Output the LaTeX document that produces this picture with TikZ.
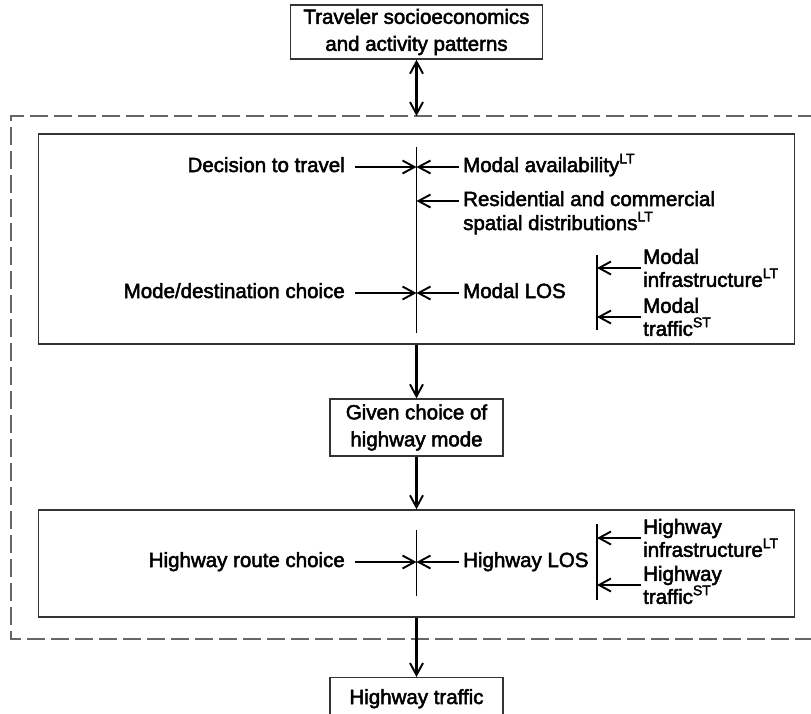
\documentclass[tikz,border=0pt]{standalone}
\usepackage{fontspec}
\setmainfont[FakeBold=2.4]{Liberation Sans}
\usetikzlibrary{arrows.meta}
\newcommand\sscr[1]{\raisebox{0.42em}{\fontsize{14}{14}\selectfont #1}}
\begin{document}
\begin{tikzpicture}[x=1pt,y=-1pt,
  every node/.style={font=\fontsize{20.5}{27}\selectfont},
  box/.style={draw=black!80, line width=1.4pt, align=center, inner sep=0pt},
  lab/.style={inner sep=0pt, text height=14pt, text depth=4pt},
  labm/.style={inner sep=0pt, align=left, font=\fontsize{20.5}{23}\selectfont},
  arr/.style={line width=2.3pt, -{Straight Barb[length=12pt,width=13pt,line width=1.9pt]}},
  darr/.style={line width=2.3pt, {Straight Barb[length=12pt,width=13pt,line width=1.9pt]}-{Straight Barb[length=12pt,width=13pt,line width=1.9pt]}},
  vline/.style={line width=1.1pt},
  dashbox/.style={draw=black!60, line width=1.4pt, dash pattern=on 18pt off 6pt}]
\useasboundingbox (0,0) rectangle (811,713);
\fill[white] (0,0) rectangle (811,713);

% dashed enclosure (runs off the right edge)
\draw[dashbox] (840,116) -- (11,116) -- (11,639) -- (840,639);

% main boxes
\node[box, minimum width=252pt, minimum height=54pt] (top) at (416.5,32) {Traveler socioeconomics\\and activity patterns};
\coordinate (dtop) at (416.5,116);
\draw[darr] (top.south) -- (dtop);

\node[box, minimum width=756pt, minimum height=210pt] (b1) at (416.5,239) {};
\node[box, minimum width=173pt, minimum height=57pt] (b2) at (416.5,427.5) {Given choice of\\highway mode};
\node[box, minimum width=756pt, minimum height=107pt] (b3) at (416.5,563.5) {};
\node[box, minimum width=173pt, minimum height=42pt, anchor=north] (b4) at (416.5,677) {Highway traffic};

\draw[arr] (b1.south) -- (b2.north);
\draw[arr] (b2.south) -- (b3.north);
\draw[arr] (b3.south) -- (b4.north);

% box 1 interior
\coordinate (v1t) at (416.5,147);
\coordinate (v1b) at (416.5,333);
\draw[vline] (v1t) -- (v1b);

\node[lab, anchor=east] (dec) at (345,167) {Decision to travel};
\draw[arr] ([xshift=10pt]dec.east) -- (dec.east -| v1t);
\node[lab, anchor=west] (mav) at (463,167) {Modal availability\sscr{LT}};
\draw[arr] ([xshift=-4pt]mav.west) -- (mav.west -| v1t);

\node[lab, anchor=west] (res) at (463,201) {Residential and commercial};
\node[lab, anchor=west] (res2) at (463,225) {spatial distributions\sscr{LT}};
\draw[arr] ([xshift=-4pt]res.west) -- (res.west -| v1t);

\node[lab, anchor=east] (mdc) at (345,293) {Mode/destination choice};
\draw[arr] ([xshift=10pt]mdc.east) -- (mdc.east -| v1t);
\node[lab, anchor=west] (mlos) at (463,293) {Modal LOS};
\draw[arr] ([xshift=-4pt]mlos.west) -- (mlos.west -| v1t);

\coordinate (v2t) at (597,255);
\coordinate (v2b) at (597,330);
\draw[vline] (v2t) -- (v2b);
\node[labm, anchor=west] (minf) at (643,268) {Modal\\infrastructure\sscr{LT}};
\draw[arr] ([xshift=-2pt]minf.west) -- (minf.west -| v2t);
\node[labm, anchor=west] (mtr) at (643,317) {Modal\\traffic\sscr{ST}};
\draw[arr] ([xshift=-2pt]mtr.west) -- (mtr.west -| v2t);

% box 3 interior
\coordinate (v3t) at (416.5,530);
\coordinate (v3b) at (416.5,596);
\draw[vline] (v3t) -- (v3b);
\node[lab, anchor=east] (hrc) at (345,562) {Highway route choice};
\draw[arr] ([xshift=10pt]hrc.east) -- (hrc.east -| v3t);
\node[lab, anchor=west] (hlos) at (463,562) {Highway LOS};
\draw[arr] ([xshift=-4pt]hlos.west) -- (hlos.west -| v3t);

\coordinate (v4t) at (597,524);
\coordinate (v4b) at (597,600);
\draw[vline] (v4t) -- (v4b);
\node[labm, anchor=west] (hinf) at (643,538) {Highway\\infrastructure\sscr{LT}};
\draw[arr] ([xshift=-2pt]hinf.west) -- (hinf.west -| v4t);
\node[labm, anchor=west] (htr) at (643,585) {Highway\\traffic\sscr{ST}};
\draw[arr] ([xshift=-2pt]htr.west) -- (htr.west -| v4t);
\end{tikzpicture}
\end{document}
